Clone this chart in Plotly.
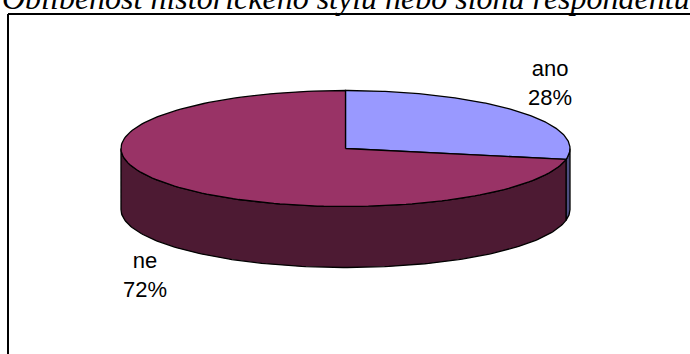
import numpy as np
import plotly.graph_objects as go

# Survey answers and their shares in percent
categories = ["ano", "ne"]
shares = [28, 72]
top_colors = ["#9999FF", "#993366"]
wall_colors = ["#4D4D80", "#4D1A33"]
title_text = "Oblíbenost historického stylu nebo slohu respondentů"

# Disc geometry in page pixels
CX, CY, RX, RY, DEPTH = 345.5, 148.5, 224.5, 58, 61


def rim(a0, a1, n=160):
    """Ellipse points, angle measured clockwise from 12 o'clock."""
    t = np.radians(np.linspace(a0, a1, n))
    return CX + RX * np.sin(t), CY - RY * np.cos(t)


fig = go.Figure()
edge = dict(color="black", width=1.3)

# Side walls: only the part of each slice facing the viewer (90..270 deg)
start = 0
walls, tops = [], []
for name, share, top, wall in zip(categories, shares, top_colors, wall_colors):
    end = start + share * 3.6
    lo, hi = max(start, 90), min(end, 270)
    if lo < hi:
        x, y = rim(lo, hi)
        walls.append((np.r_[x, x[::-1], x[0]], np.r_[y, y[::-1] + DEPTH, y[0]], wall))
    x, y = rim(start, end)
    tops.append((np.r_[CX, x, CX], np.r_[CY, y, CY], top))
    start = end

for x, y, color in walls + tops:
    fig.add_trace(go.Scatter(x=x, y=y, mode="lines", fill="toself", fillcolor=color,
                             line=edge, hoverinfo="skip", showlegend=False))

# Data labels beside the disc
label_pos = [(550, 83), (145, 275)]
for name, share, (lx, ly) in zip(categories, shares, label_pos):
    fig.add_annotation(x=lx, y=ly, text=f"{name}<br>{share}%", showarrow=False,
                       font=dict(family="Liberation Sans", size=22, color="black"),
                       xanchor="center", yanchor="middle", align="center")

# Frame around the chart area: left and top edges only fall inside the page
fig.add_shape(type="line", x0=8, x1=8, y0=14, y1=354, line=dict(color="black", width=2))
fig.add_shape(type="line", x0=8, x1=690, y0=14, y1=14, line=dict(color="black", width=2))

# Heading runs off the top of the page, so it is anchored at the upper edge and lifted
fig.add_annotation(x=346, y=0, yshift=2, text=f"<i>{title_text}</i>", showarrow=False,
                   font=dict(family="Liberation Serif", size=32, color="black"),
                   xanchor="center", yanchor="middle")

fig.update_layout(
    width=690, height=354, margin=dict(l=0, r=0, t=0, b=0),
    paper_bgcolor="white", plot_bgcolor="white", showlegend=False,
    xaxis=dict(range=[0, 690], visible=False, fixedrange=True),
    yaxis=dict(range=[354, 0], visible=False, fixedrange=True),
)
fig.write_html("out.html", config={"displayModeBar": False})
